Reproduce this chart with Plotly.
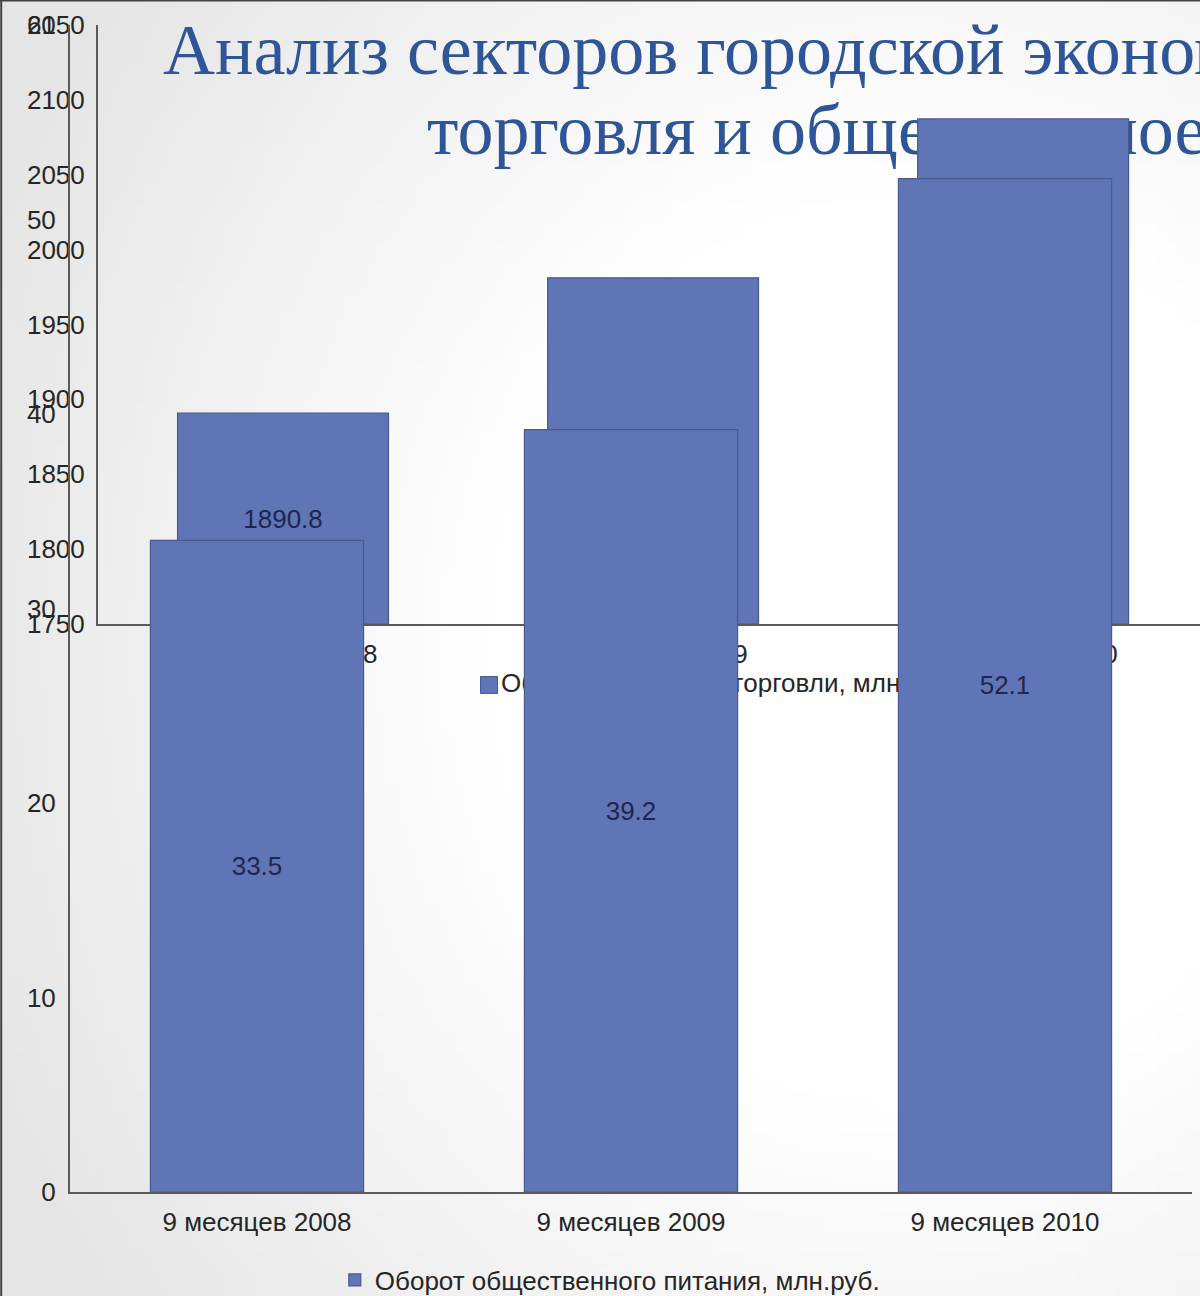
import base64
import struct
import zlib

import plotly.graph_objects as go

# ---------------- data ----------------
categories = ["9 месяцев 2008", "9 месяцев 2009", "9 месяцев 2010"]
retail_values = [1890.8, 1981.2, 2087.3]          # Оборот розничной торговли, млн.руб.
catering_values = [33.5, 39.2, 52.1]              # Оборот общественного питания, млн.руб.
retail_name = "Оборот розничной торговли, млн.руб."
catering_name = "Оборот общественного питания, млн.руб."
title_line1 = "Анализ секторов городской экономики:"
title_line2 = "торговля и общественное питание"
retail_axis_min = 1750
retail_axis_max = 2150
catering_axis_max = 60

# ---------------- style ----------------
W, H = 1200, 1296
BAR = "#6075B5"
BAR_LINE = "#4A5A90"
AXIS = "#5a5a5a"
TXT = "#262626"
LBL = "#1E2650"
TITLE = "#2E5597"
FONT = "Liberation Sans, Arial, sans-serif"


# soft grey slide background (generated PNG gradient)
def make_bg_png(w, h):
    rows = []
    for j in range(h):
        row = bytearray([0])
        for i in range(w):
            x = (i + 0.5) / w * W
            y = (j + 0.5) / h * H
            dx = (x - 900) / 900.0
            dy = (y - 650) / 1000.0
            d = (dx * dx + dy * dy) ** 0.5
            t = min(max((d - 0.45) / 0.65, 0.0), 1.0)
            row.append(int(round(255 - t * 26)))
        rows.append(bytes(row))
    raw = b"".join(rows)

    def chunk(tag, data):
        return (struct.pack(">I", len(data)) + tag + data
                + struct.pack(">I", zlib.crc32(tag + data) & 0xFFFFFFFF))

    png = (b"\x89PNG\r\n\x1a\n"
           + chunk(b"IHDR", struct.pack(">IIBBBBB", w, h, 8, 0, 0, 0, 0))
           + chunk(b"IDAT", zlib.compress(raw, 9))
           + chunk(b"IEND", b""))
    return "data:image/png;base64," + base64.b64encode(png).decode()


bg_src = make_bg_png(120, 130)

fig = go.Figure()

# ---- base layer (pixel-coordinate canvas): title and the first chart's legend ----
fig.add_trace(go.Scatter(
    x=[163, 427], y=[56, 136], mode="text",
    text=[title_line1, title_line2], textposition="middle right",
    textfont=dict(family="Liberation Serif, Times New Roman, serif", size=72, color=TITLE),
    xaxis="x", yaxis="y", showlegend=False, hoverinfo="skip", cliponaxis=False,
))
fig.add_trace(go.Scatter(
    x=[489], y=[685], mode="markers",
    marker=dict(symbol="square", size=17, color=BAR, line=dict(color=BAR_LINE, width=1)),
    xaxis="x", yaxis="y", showlegend=False, hoverinfo="skip", cliponaxis=False,
))
fig.add_trace(go.Scatter(
    x=[501], y=[685], mode="text", text=[retail_name], textposition="middle right",
    textfont=dict(family=FONT, size=26, color=TXT),
    xaxis="x", yaxis="y", showlegend=False, hoverinfo="skip", cliponaxis=False,
))

# ---- chart A: retail trade ----
fig.add_trace(go.Bar(
    x=categories,
    y=[v - retail_axis_min for v in retail_values],
    base=[retail_axis_min] * len(retail_values),
    customdata=retail_values,
    texttemplate="%{customdata:.1f}",
    textposition="inside", insidetextanchor="middle", constraintext="none",
    textfont=dict(family=FONT, size=26, color=LBL),
    width=0.57,
    marker=dict(color=BAR, line=dict(color=BAR_LINE, width=1.2)),
    name=retail_name, showlegend=False,
    xaxis="x2", yaxis="y2",
))

# ---- chart B: public catering ----
fig.add_trace(go.Bar(
    x=categories, y=catering_values,
    text=[f"{v:.1f}" for v in catering_values],
    textposition="inside", insidetextanchor="middle", constraintext="none",
    textfont=dict(family=FONT, size=26, color=LBL),
    width=0.57,
    marker=dict(color=BAR, line=dict(color=BAR_LINE, width=1.2)),
    name=catering_name, showlegend=True,
    xaxis="x3", yaxis="y3",
))

axis_common = dict(showgrid=False, zeroline=False, ticks="", fixedrange=True,
                   showline=True, linecolor=AXIS, linewidth=2, automargin=False,
                   tickfont=dict(family=FONT, size=26, color=TXT))

fig.update_layout(
    width=W, height=H,
    autosize=False,
    margin=dict(l=0, r=0, t=0, b=0, pad=0, autoexpand=False),
    paper_bgcolor="white",
    plot_bgcolor="rgba(0,0,0,0)",
    font=dict(family=FONT, size=26, color=TXT),
    barmode="overlay",
    images=[dict(source=bg_src, xref="paper", yref="paper", x=0, y=1,
                 sizex=1, sizey=1, sizing="stretch", layer="below")],
    xaxis=dict(domain=[0, 1], range=[0, W], visible=False, fixedrange=True, automargin=False),
    yaxis=dict(domain=[0, 1], range=[H, 0], visible=False, fixedrange=True, automargin=False),
    xaxis2=dict(axis_common, domain=[98 / W, 1], anchor="y2", type="category",
                range=[-0.5, 2.478], ticklabelstandoff=6, layer="below traces"),
    yaxis2=dict(axis_common, domain=[1 - 624 / H, 1 - 25 / H], anchor="x2",
                range=[retail_axis_min, retail_axis_max], dtick=50, tick0=retail_axis_min,
                ticklabelstandoff=6, layer="below traces"),
    xaxis3=dict(axis_common, domain=[70 / W, 1192 / W], anchor="y3", type="category",
                range=[-0.5, 2.5], ticklabelstandoff=6),
    yaxis3=dict(axis_common, domain=[1 - 1192 / H, 1 - 25 / H], anchor="x3",
                range=[0, catering_axis_max], dtick=10, ticklabelstandoff=7),
    legend=dict(orientation="h", xref="container", yref="container",
                x=0.279, xanchor="left", y=1 - 1280 / H, yanchor="middle",
                bgcolor="rgba(0,0,0,0)", font=dict(family=FONT, size=26, color=TXT),
                itemwidth=30),
    shapes=[
        dict(type="line", xref="paper", yref="paper", x0=0.001, x1=0.001, y0=0, y1=1,
             line=dict(color="#444", width=2), layer="above"),
        dict(type="line", xref="paper", yref="paper", x0=0, x1=1, y0=0.9995, y1=0.9995,
             line=dict(color="#444", width=1.5), layer="above"),
    ],
    showlegend=True,
)

fig.write_html("out.html", config={"displayModeBar": False},
               post_script="document.body.style.margin='0';")
